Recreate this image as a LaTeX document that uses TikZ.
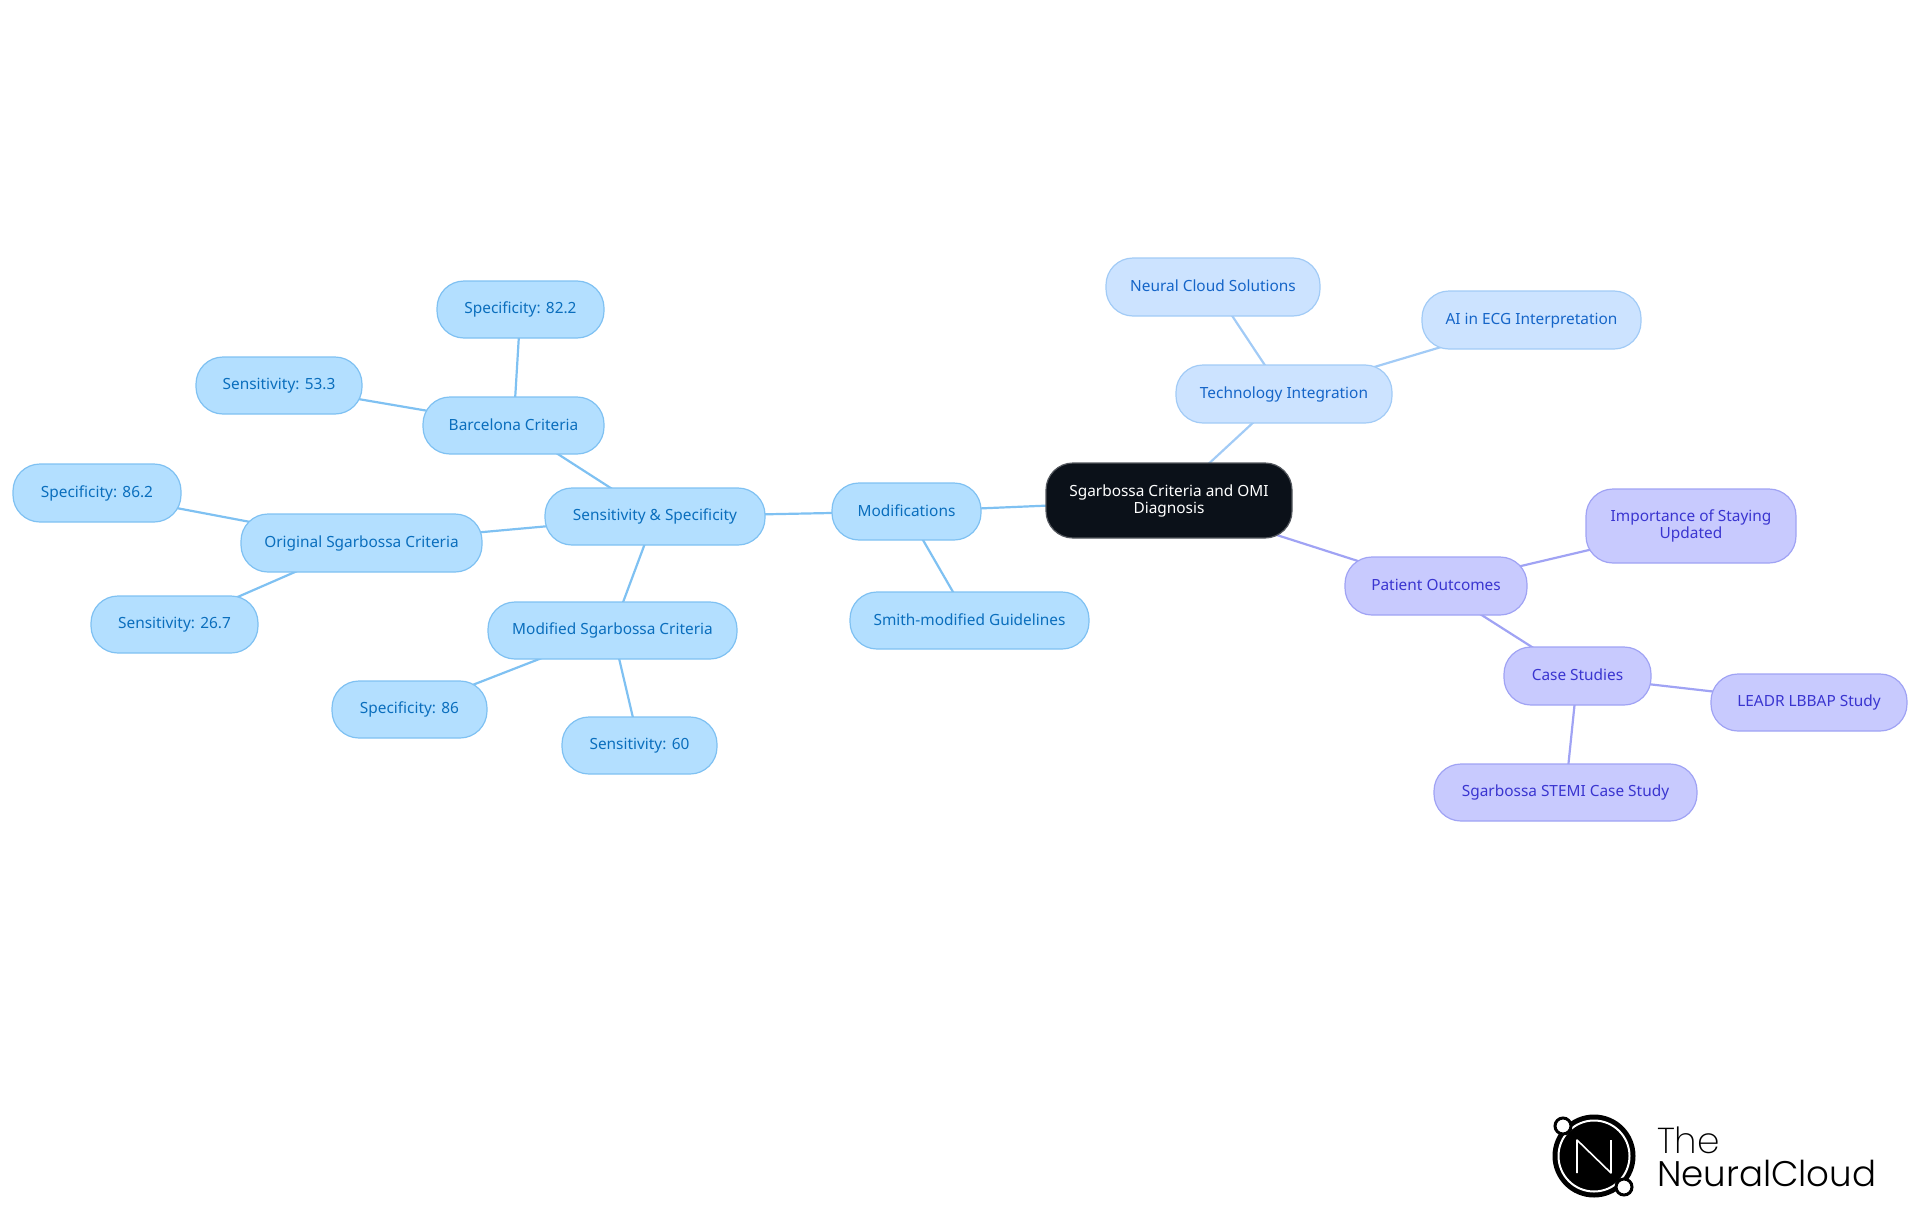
\documentclass[tikz,border=0pt]{standalone}
\usepackage{fontspec}
\setmainfont{Noto Sans}
\newfontfamily\logofont{Poppins Light}
\newfontfamily\logothin{Poppins ExtraLight}
\usetikzlibrary{backgrounds}
\definecolor{bfill}{HTML}{B3DFFF}
\definecolor{bline}{HTML}{7FC1F2}
\definecolor{btext}{HTML}{0A6EBD}
\definecolor{lfill}{HTML}{CCE3FF}
\definecolor{lline}{HTML}{A2CBF6}
\definecolor{ltext}{HTML}{1565C8}
\definecolor{pfill}{HTML}{C8CAFE}
\definecolor{pline}{HTML}{A0A3F4}
\definecolor{ptext}{HTML}{3A35D0}
\definecolor{rfill}{HTML}{0B1119}
\tikzset{
  x=1pt,y=-1pt,
  basebox/.style={rectangle,rounded corners=27pt,inner sep=0pt,outer sep=0pt,line width=1.2pt,align=center,font=\fontsize{15.4}{17}\selectfont},
  bluebox/.style={basebox,fill=bfill,draw=bline,text=btext},
  lightbox/.style={basebox,fill=lfill,draw=lline,text=ltext},
  purplebox/.style={basebox,fill=pfill,draw=pline,text=ptext},
  rootbox/.style={basebox,fill=rfill,draw=rfill!70!white,text=white},
  blueedge/.style={draw=bline,line width=2.2pt},
  lightedge/.style={draw=lline,line width=2.2pt},
  purpleedge/.style={draw=pline,line width=2.2pt},
  logotext/.style={inner sep=0pt,outer sep=0pt,anchor=base west,text=black}
}
\newcommand{\bx}[7]{\node[#1,minimum width={(#5)-(#3)},minimum height={(#6)-(#4)}] (#2) at ({((#3)+(#5))/2},{((#4)+(#6))/2}) {\rule{0pt}{12.5pt}#7\rule[-3.5pt]{0pt}{3.5pt}};}
\newcommand{\ed}[3]{\draw[#1] (#2.center) -- (#3.center);}
\begin{document}
\begin{tikzpicture}
\useasboundingbox (0,0) rectangle (1920,1215);
\bx{rootbox}{root}{1046}{463}{1292}{538}{Sgarbossa Criteria and OMI\\Diagnosis}
\bx{purplebox}{patient}{1345}{557}{1527}{615}{Patient Outcomes}
\bx{purplebox}{importance}{1586}{489}{1796}{563}{Importance of Staying\\Updated}
\bx{purplebox}{cases}{1504}{647}{1651}{705}{Case Studies}
\bx{purplebox}{leadr}{1711}{674}{1907}{731}{LEADR LBBAP Study}
\bx{purplebox}{stemi}{1434}{764}{1697}{821}{Sgarbossa STEMI Case Study}
\bx{lightbox}{tech}{1176}{365}{1392}{423}{Technology Integration}
\bx{lightbox}{neural}{1106}{258}{1320}{316}{Neural Cloud Solutions}
\bx{lightbox}{ai}{1422}{291}{1641}{349}{AI in ECG Interpretation}
\bx{bluebox}{mods}{832}{483}{981}{540}{Modifications}
\bx{bluebox}{smith}{850}{592}{1089}{649}{Smith-modified Guidelines}
\bx{bluebox}{sens}{545}{488}{765}{545}{Sensitivity \& Specificity}
\bx{bluebox}{barcelona}{423}{397}{604}{454}{Barcelona Criteria}
\bx{bluebox}{spectwo}{437}{281}{604}{338}{Specificity: 82.2}
\bx{bluebox}{sensthree}{196}{357}{362}{414}{Sensitivity: 53.3}
\bx{bluebox}{original}{241}{514}{482}{572}{Original Sgarbossa Criteria}
\bx{bluebox}{specsix}{13}{464}{181}{522}{Specificity: 86.2}
\bx{bluebox}{sensseven}{91}{596}{258}{653}{Sensitivity: 26.7}
\bx{bluebox}{modified}{488}{602}{737}{659}{Modified Sgarbossa Criteria}
\bx{bluebox}{speceight}{332}{681}{487}{738}{Specificity: 86}
\bx{bluebox}{sensnine}{562}{717}{717}{774}{Sensitivity: 60}
\begin{scope}[on background layer]
\ed{blueedge}{root}{mods}
\ed{blueedge}{mods}{sens}
\ed{blueedge}{mods}{smith}
\ed{blueedge}{sens}{barcelona}
\ed{blueedge}{sens}{original}
\ed{blueedge}{sens}{modified}
\ed{blueedge}{barcelona}{spectwo}
\ed{blueedge}{barcelona}{sensthree}
\ed{blueedge}{original}{specsix}
\ed{blueedge}{original}{sensseven}
\ed{blueedge}{modified}{speceight}
\ed{blueedge}{modified}{sensnine}
\ed{lightedge}{root}{tech}
\ed{lightedge}{tech}{neural}
\ed{lightedge}{tech}{ai}
\ed{purpleedge}{root}{patient}
\ed{purpleedge}{patient}{importance}
\ed{purpleedge}{patient}{cases}
\ed{purpleedge}{cases}{leadr}
\ed{purpleedge}{cases}{stemi}
\end{scope}
% logo
\fill[black] (1594,1156) circle (41.5);
\draw[white,line width=2pt] (1594,1156) circle (35.5);
\draw[white,line width=1.6pt,line join=round] (1577,1173) -- (1577,1140) -- (1611,1173) -- (1611,1140);
\draw[black,fill=white,line width=3pt] (1563,1126) circle (8);
\draw[black,fill=white,line width=3pt] (1624,1187) circle (8);
\node[logotext,font=\logothin\fontsize{36}{36}\selectfont] (logothe) at (1657,1153) {The};
\node[logotext,font=\logofont\fontsize{35.6}{35.6}\selectfont] (logoname) at (1657,1186) {NeuralCloud};
\end{tikzpicture}
\end{document}
